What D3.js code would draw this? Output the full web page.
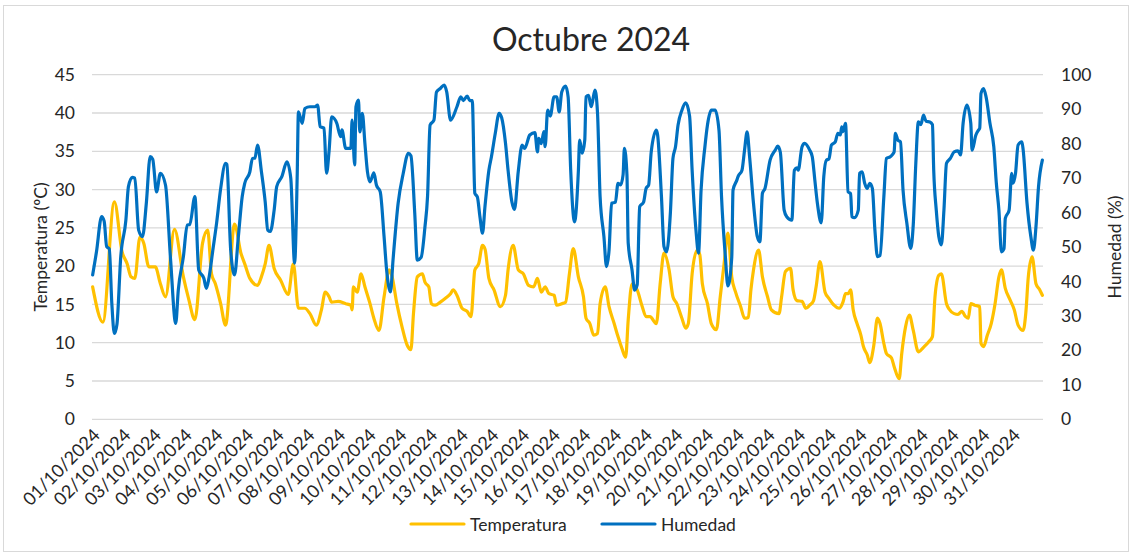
<!DOCTYPE html>
<html>
<head>
<meta charset="utf-8">
<script src="https://cdn.jsdelivr.net/npm/d3@7"></script>
<style>
  html, body { margin: 0; padding: 0; background: #fff; }
  svg text { font-family: Lato, "Open Sans", sans-serif; fill: #262626; }
</style>
</head>
<body>
<svg id="chart" width="1132" height="556"></svg>
<script>
// ---- data (hour index within October 2024, value) ----
const title = "Octubre 2024";
const dayLabels = d3.range(1, 32).map(d => String(d).padStart(2, "0") + "/10/2024");
const tempTicks = [0, 5, 10, 15, 20, 25, 30, 35, 40, 45];
const humTicks = [0, 10, 20, 30, 40, 50, 60, 70, 80, 90, 100];
const seriesNames = ["Temperatura", "Humedad"];

const tempHours = [0,8,17,23,27,30,33,37,40,44,49,53,57,64,71,75,80,86,90,93,96,100,104,111,116,119,123,129,132,135,138,142,147,153,157,161,166,170,175,179,182,185,187,192,198,202,203,204,207,210,213,217,220,224,228,232,234,238,242,246,249,251,254,258,260,263,265,268,272,276,280,282,285,289,293,296,299,302,305,307,310,314,319,323,325,329,333,337,341,345,348,351,354,357,361,363,367,370,373,376,380,384,386,389,392,395,397,401,404,408,411,414,417,419,422,426,430,433,436,441,444,447,451,454,457,461,464,466,469,473,475,477,481,484,488,491,494,497,500,503,507,510,513,515,517,521,524,528,531,537,539,542,546,548,551,555,558,561,564,566,569,573,576,580,584,587,589,591,593,595,598,601,603,606,608,611,614,616,619,621,625,627,631,633,636,639,642,646,650,654,657,659,662,664,668,670,674,677,680,683,685,687,690,694,695,697,700,703,706,709,711,714,718,721,724,728,730,732,735,738,741,743];
const tempValues = [17.3,12.7,28.4,21.9,20.3,18.6,18.4,23.8,23.0,19.9,19.9,17.7,16.0,24.8,18.6,15.8,13.0,23.0,24.7,19.0,17.7,15.2,12.3,25.5,21.7,20.3,18.4,17.5,18.6,20.3,22.7,19.7,18.2,16.3,20.3,14.5,14.5,13.8,12.3,14.3,16.6,16.0,15.3,15.4,15.1,14.9,14.3,17.3,16.6,19.0,17.3,15.1,13.2,11.6,16.0,19.5,18.8,15.1,12.1,9.7,9.1,13.8,18.6,19.0,17.9,17.3,15.1,14.9,15.3,15.8,16.4,16.9,16.2,14.5,14.1,13.4,19.5,20.3,22.7,22.2,18.4,16.9,14.7,16.2,19.5,22.7,19.5,19.0,17.5,17.3,18.4,16.6,17.3,16.4,16.2,14.9,15.1,15.3,19.0,22.3,18.6,16.0,13.2,12.5,11.0,11.2,15.1,17.3,14.7,12.5,10.8,9.3,8.1,13.0,17.7,16.9,14.7,13.4,13.4,12.5,17.7,21.7,19.5,16.0,15.1,13.2,11.9,12.5,19.0,22.1,21.5,17.7,15.1,12.5,11.7,16.0,20.3,24.3,18.6,16.6,14.7,13.2,13.3,16.9,19.5,22.1,18.6,16.0,14.3,13.8,16.0,19.3,19.7,16.9,15.5,15.4,14.5,14.9,15.5,17.3,20.6,16.6,15.8,14.9,14.5,15.3,16.4,16.4,16.9,14.3,12.5,11.0,9.5,8.4,7.4,9.5,13.2,12.5,9.9,8.6,8.0,6.9,5.3,8.6,12.1,13.6,11.6,8.8,9.4,10.1,10.8,16.0,18.8,19.0,15.1,14.4,13.8,13.7,14.1,13.4,13.2,15.1,14.9,14.7,9.9,9.5,11.0,12.5,15.1,18.6,19.5,17.1,15.5,14.3,12.3,11.6,13.8,18.6,21.2,17.7,16.9,16.2];

const humHours = [0,3,7,9,11,13,15,17,19,22,26,28,31,33,36,39,42,45,47,50,53,57,61,65,67,71,74,76,80,83,87,89,91,94,97,100,104,105,108,111,114,117,119,123,125,127,129,132,135,137,139,142,144,148,152,155,158,160,161,164,166,170,174,176,178,181,183,185,187,191,194,195,198,202,203,205,206,208,209,211,213,215,217,220,222,225,228,230,233,235,239,243,247,249,252,254,257,260,262,264,267,269,272,275,277,280,285,288,290,293,295,297,299,301,303,305,307,310,312,315,318,320,323,325,328,330,333,336,338,342,346,348,349,351,353,354,356,358,361,363,365,367,370,372,374,377,380,381,383,385,386,388,390,391,393,395,397,400,402,404,406,409,411,413,415,416,418,419,422,424,426,428,431,433,435,437,441,442,445,447,449,452,454,456,458,461,464,467,469,472,474,476,479,481,484,487,490,492,495,497,500,501,504,505,508,510,512,514,517,520,522,524,526,530,534,536,538,541,543,547,549,551,552,555,557,561,563,565,567,570,572,574,576,578,581,583,585,586,587,589,591,593,594,596,599,600,602,604,606,608,610,612,614,616,619,621,624,627,628,630,632,634,637,640,642,644,646,648,650,652,655,657,658,660,662,664,666,668,671,674,677,679,681,684,687,688,691,693,694,695,697,699,702,705,707,709,711,713,714,717,719,720,722,724,727,728,731,734,736,738,740,743];
const humValues = [41.9,48.6,58.8,57.5,50.1,49.5,33.7,24.9,27.5,47.2,57.8,67.5,70.2,70.0,54.9,53.0,62.7,76.2,75.5,66.0,71.4,68.0,46.2,27.8,37.5,47.2,56.4,56.5,64.6,43.3,40.9,38.0,41,49,57,66.5,74.3,74.0,49.1,41.9,53.0,64.6,68.5,71.8,75.7,75.8,79.6,72,63.1,54.9,54.5,60.7,67.5,70.4,74.7,70,45.3,70,89.2,85.9,90.2,90.7,90.7,91.2,84.9,84.5,71.4,78,87.8,85.9,82.0,84,78.6,78.6,86.8,73.8,90.7,92.6,83.4,88.8,80.1,71.8,68.9,71.5,68.0,66.0,53.0,43.3,37.0,46.2,62.7,71.4,77.2,76.5,59.8,46.2,47,55.9,64.6,85.4,86.8,95.0,96.0,97.0,95,86.8,90.7,93.6,92.5,93.8,92.5,92.5,65.6,64.5,58.8,54.0,62,72.3,76.2,83.0,88.8,87.5,80.1,72.3,63.1,60.9,72,79.6,78.6,82.5,83.2,77.6,81.5,80,83.5,79.1,89.7,88,93.6,93.6,89.2,95.0,96.7,93.5,72.3,57.3,72,81.0,77.2,81,93.6,94,90.7,92,95.5,88.8,64.6,53.0,44.3,49,62.7,63,68.5,68,71,78.6,71,51.1,43.3,37.5,39,61.7,63,67.0,68,77.6,83.9,82.5,64.6,50.1,48.6,60,75.7,79.1,85.4,89.7,91.8,88,72.3,54.9,48.2,66.5,79.1,85.4,89.7,89.7,83.9,64.6,47.2,38.7,47,66.5,69.4,70.5,72.3,78.1,83.4,76,62.7,53.0,51.5,65.6,67,75.2,78.1,79.3,77.5,60.7,58.8,57.8,72.3,73,72.3,79.1,80.1,78.1,76.2,69.4,62.7,57.0,70.4,75.2,75.5,79.6,80.5,83.0,82.5,84.9,83.5,85.9,66.0,65.5,58.8,58.5,60.7,71.4,71.8,68.5,67.0,68.5,67,54.9,47.2,47.5,64.6,75.7,76.2,77.5,83.0,81,80.5,66.5,56.9,49.6,56.5,74.3,86.3,85.5,88.3,86.5,86.3,85.5,72.3,60.7,53.0,50.6,60.7,74.3,75.7,77.6,77.9,76.7,85.9,91.2,85.9,78.1,82.5,83.9,84.5,94.6,96.0,93.5,85.9,79.1,68.5,60.7,48.6,49.5,58.3,60.7,71.4,68.5,71.4,79.6,80.5,78.1,62.7,53.0,49.1,55.9,67.5,75.2];

const colors = { temp: "#FFC000", hum: "#0070C0" };

// ---- layout ----
const svg = d3.select("#chart");
const plot = { left: 92, right: 1043, top: 74.7, bottom: 419.3 };

svg.append("rect").attr("x", 3.5).attr("y", 5.5).attr("width", 1125).attr("height", 546)
  .attr("fill", "#fff").attr("stroke", "#d9d9d9").attr("stroke-width", 1);

const x = d3.scaleLinear().domain([-0.5, 743.5]).range([plot.left, plot.right]);
const yT = d3.scaleLinear().domain([0, 45]).range([plot.bottom, plot.top]);
const yH = d3.scaleLinear().domain([0, 100]).range([plot.bottom, plot.top]);

// gridlines
svg.append("g").selectAll("line").data(tempTicks).join("line")
  .attr("x1", plot.left).attr("x2", plot.right)
  .attr("y1", d => yT(d)).attr("y2", d => yT(d))
  .attr("stroke", "#d9d9d9").attr("stroke-width", 1.3);

// left axis
const leftAxis = svg.append("g").attr("transform", `translate(${plot.left - 17},0)`)
  .call(d3.axisLeft(yT).tickValues(tempTicks).tickSize(0).tickPadding(0));
leftAxis.select(".domain").remove();
leftAxis.selectAll("text").attr("font-size", "17.5px").attr("fill", "#262626")
  .style("font-family", "Lato, sans-serif");

// right axis
const rightAxis = svg.append("g").attr("transform", `translate(${plot.right + 18},0)`)
  .call(d3.axisRight(yH).tickValues(humTicks).tickSize(0).tickPadding(0));
rightAxis.select(".domain").remove();
rightAxis.selectAll("text").attr("font-size", "17.5px").attr("fill", "#262626")
  .style("font-family", "Lato, sans-serif");

// x axis labels (one per day)
const dayStarts = d3.range(0, 31).map(i => i * 24);
const xAxis = svg.append("g").attr("transform", `translate(0,${plot.bottom})`)
  .call(d3.axisBottom(x).tickValues(dayStarts).tickSize(0).tickFormat((d, i) => dayLabels[i]));
xAxis.select(".domain").remove();
xAxis.selectAll("text")
  .attr("font-size", "18px").attr("fill", "#262626")
  .style("font-family", "Lato, sans-serif")
  .attr("text-anchor", "end")
  .attr("dy", null).attr("y", 0)
  .attr("transform", "translate(8,17) rotate(-45)");

// lines
const lineT = d3.line().x((d, i) => x(tempHours[i])).y(d => yT(d)).curve(d3.curveMonotoneX);
const lineH = d3.line().x((d, i) => x(humHours[i])).y(d => yH(d)).curve(d3.curveMonotoneX);

svg.append("path").attr("d", lineT(tempValues)).attr("fill", "none")
  .attr("stroke", colors.temp).attr("stroke-width", 3.2).attr("stroke-linejoin", "round").attr("stroke-linecap", "round");
svg.append("path").attr("d", lineH(humValues)).attr("fill", "none")
  .attr("stroke", colors.hum).attr("stroke-width", 3.2).attr("stroke-linejoin", "round").attr("stroke-linecap", "round");

// title
svg.append("text").attr("x", 591).attr("y", 51).attr("text-anchor", "middle")
  .attr("font-size", "32px").text(title);

// axis titles
svg.append("text").attr("transform", `translate(47,${(plot.top + plot.bottom) / 2}) rotate(-90)`)
  .attr("text-anchor", "middle").attr("font-size", "17.5px").text("Temperatura (ºC)");
svg.append("text").attr("transform", `translate(1121,${(plot.top + plot.bottom) / 2}) rotate(-90)`)
  .attr("text-anchor", "middle").attr("font-size", "17.5px").text("Humedad (%)");

// legend
const legend = svg.append("g");
const legendItems = [
  { name: seriesNames[0], color: colors.temp, x: 411 },
  { name: seriesNames[1], color: colors.hum, x: 602 }
];
legendItems.forEach(it => {
  legend.append("line").attr("x1", it.x).attr("x2", it.x + 53).attr("y1", 524).attr("y2", 524)
    .attr("stroke", it.color).attr("stroke-width", 3.2).attr("stroke-linecap", "round");
  legend.append("text").attr("x", it.x + 59).attr("y", 530.5).attr("font-size", "17.5px").text(it.name);
});
</script>
</body>
</html>
